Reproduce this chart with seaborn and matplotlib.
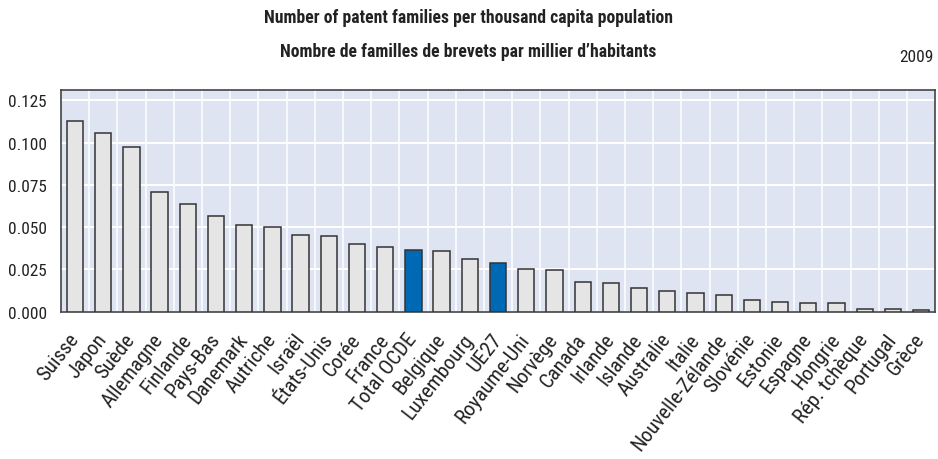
import os
import numpy as np
import pandas as pd
import matplotlib
matplotlib.use("Agg")
import matplotlib.pyplot as plt
from matplotlib import font_manager
from matplotlib.font_manager import FontProperties
import seaborn as sns

countries = ["Suisse", "Japon", "Suède", "Allemagne", "Finlande", "Pays-Bas", "Danemark",
             "Autriche", "Israël", "États-Unis", "Corée", "France", "Total OCDE", "Belgique",
             "Luxembourg", "UE27", "Royaume-Uni", "Norvège", "Canada", "Irlande", "Islande",
             "Australie", "Italie", "Nouvelle-Zélande", "Slovénie", "Estonie", "Espagne",
             "Hongrie", "Rép. tchèque", "Portugal", "Grèce"]
values = [0.113, 0.1054, 0.0976, 0.0710, 0.0635, 0.0567, 0.0512,
          0.0502, 0.0456, 0.0448, 0.0403, 0.0381, 0.0367, 0.0357,
          0.0311, 0.0290, 0.0254, 0.0246, 0.0179, 0.0171, 0.0139,
          0.0125, 0.0113, 0.0101, 0.0071, 0.0060, 0.0050,
          0.0050, 0.0016, 0.0016, 0.0008]
highlight = ["Total OCDE", "UE27"]
y_ticks = [0.000, 0.025, 0.050, 0.075, 0.100, 0.125]

title_en = "Number of patent families per thousand capita population"
title_fr = "Nombre de familles de brevets par millier d\u2019habitants"
year = "2009"


def pick_font(bold):
    # look for a narrow / condensed face, the reference uses one
    prefs = ["liberationsansnarrow", "robotocondensed", "opensanscondensed",
             "notosanscondensed", "dejavusanscondensed"]
    found = {}
    for f in font_manager.fontManager.ttflist:
        fn = os.path.basename(f.fname).lower().replace("-", "").replace("_", "")
        if f.style != "normal" or "italic" in fn:
            continue
        is_bold = f.weight in (700, "bold") or "bold" in fn
        if "semibold" in fn or "extrabold" in fn or "light" in fn or "medium" in fn or "black" in fn or "thin" in fn:
            continue
        if is_bold != bold:
            continue
        for p in prefs:
            if fn.startswith(p):
                found.setdefault(p, f.fname)
    for p in prefs:
        if p in found:
            return FontProperties(fname=found[p])
    return FontProperties(family="Liberation Sans", weight="bold" if bold else "normal")


fp_reg = pick_font(False)
fp_bold = pick_font(True)

df = pd.DataFrame({"country": countries, "value": values})
palette = {c: ("#0069b4" if c in highlight else "#e5e5e5") for c in countries}

sns.set_theme(style="white")
plt.rcParams["font.family"] = ["Liberation Sans", "DejaVu Sans"]

fig = plt.figure(figsize=(9.38, 4.6), dpi=100)
renderer = fig.canvas.get_renderer()


def fit(fp, text, target_px):
    # font size in points so that the text is target_px wide
    f = fp.copy()
    f.set_size(10)
    w, h, d = renderer.get_text_width_height_descent(text, f, ismath=False)
    f.set_size(10 * target_px / w)
    return f


fp_title = fit(fp_bold, title_en, 406)
fp_year = fit(fp_reg, year, 34)
fp_y = fit(fp_reg, "0.000", 38)
fp_x = fit(fp_reg, "Nouvelle-Zélande", 141)

ax = fig.add_axes([0.065, 0.32, 0.932, 0.482])
ax.set_facecolor("#dfe4f2")

sns.barplot(data=df, x="country", y="value", hue="country", palette=palette,
            legend=False, width=0.58, edgecolor="#333333", linewidth=1.1,
            saturation=1, ax=ax, zorder=3)

ax.set_xlim(-0.5, len(countries) - 0.5)
ax.set_ylim(0, 0.131)
ax.set_yticks(y_ticks)
ax.set_yticklabels([f"{t:.3f}" for t in y_ticks], fontproperties=fp_y, color="#222222")
ax.set_xticks(range(len(countries)))
ax.set_xticklabels(countries, rotation=52, ha="right", va="center", rotation_mode="anchor",
                   fontproperties=fp_x, color="#222222")
ax.set_xticks(np.arange(0.5, len(countries) - 1, 1), minor=True)

ax.grid(axis="y", which="major", color="white", linewidth=1.4, zorder=1)
ax.grid(axis="x", which="minor", color="white", linewidth=1.1, zorder=1)
ax.set_axisbelow(True)

ax.tick_params(axis="x", which="major", length=0, pad=17)
ax.tick_params(axis="x", which="minor", direction="in", length=4, width=1.2, color="#333333")
ax.tick_params(axis="y", which="major", direction="in", length=5, width=1, color="#333333", pad=10)

for s in ax.spines.values():
    s.set_visible(True)
    s.set_color("#444444")
    s.set_linewidth(1.2)

ax.set_xlabel("")
ax.set_ylabel("")

fig.text(0.499, 0.961, title_en, ha="center", va="center", fontproperties=fp_title, color="#222222")
fig.text(0.499, 0.887, title_fr, ha="center", va="center", fontproperties=fp_title, color="#222222")
fig.text(0.995, 0.874, year, ha="right", va="center", fontproperties=fp_year, color="#222222")

fig.savefig("out.png", dpi=100)
